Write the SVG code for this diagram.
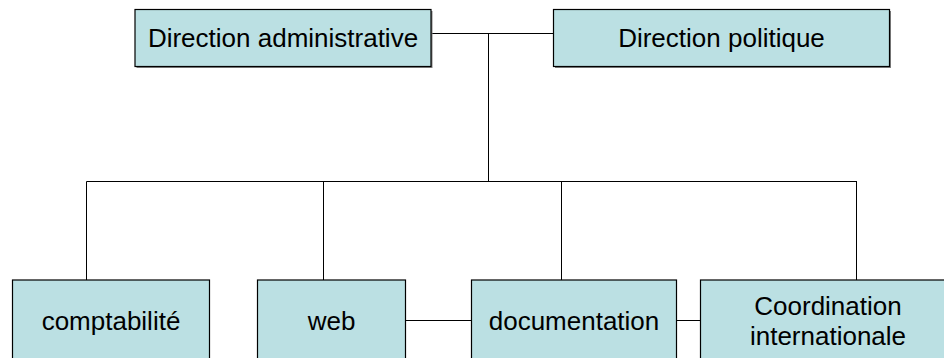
<svg xmlns="http://www.w3.org/2000/svg" width="944" height="358" viewBox="0 0 944 358">
<style>
.shadow{fill:#808080;}
.box{fill:#BBE0E3;stroke:#000;stroke-width:1.2;}
.lbl{font-family:"Liberation Sans",Arial,sans-serif;font-size:26px;fill:#000;text-anchor:middle;}
.conn{stroke:#000;stroke-width:1;fill:none;}
</style>
<rect width="944" height="358" fill="#fff"/>
<g id="connectors">
<path class="conn" d="M431,33.5 H553.5"/>
<path class="conn" d="M488.5,33.5 V181.5"/>
<path class="conn" d="M86.5,181.5 H857 M86.5,181.5 V280 M323.5,181.5 V280 M561.5,181.5 V280 M856.5,181.5 V280"/>
<path class="conn" d="M405.5,320.5 H471.5 M676.5,320.5 H700.5"/>
</g>
<g id="n-dir-admin">
<rect class="shadow" x="136.5" y="11" width="296" height="57"/>
<rect class="box" x="135" y="9.5" width="296" height="57"/>
<text class="lbl" x="283" y="47">Direction administrative</text>
</g>
<g id="n-dir-pol">
<rect class="shadow" x="555" y="11" width="336" height="57"/>
<rect class="box" x="553.5" y="9.5" width="336" height="57"/>
<text class="lbl" x="721.5" y="47">Direction politique</text>
</g>
<g id="n-compta">
<rect class="box" x="12.5" y="280" width="197" height="100"/>
<text class="lbl" x="111" y="330">comptabilité</text>
</g>
<g id="n-web">
<rect class="box" x="257.5" y="280" width="148" height="100"/>
<text class="lbl" x="331.5" y="330">web</text>
</g>
<g id="n-doc">
<rect class="box" x="471.5" y="280" width="205" height="100"/>
<text class="lbl" x="574" y="330">documentation</text>
</g>
<g id="n-coord">
<rect class="box" x="700.5" y="280" width="255" height="100"/>
<text class="lbl" x="828" y="315">Coordination</text>
<text class="lbl" x="828" y="345">internationale</text>
</g>
</svg>
